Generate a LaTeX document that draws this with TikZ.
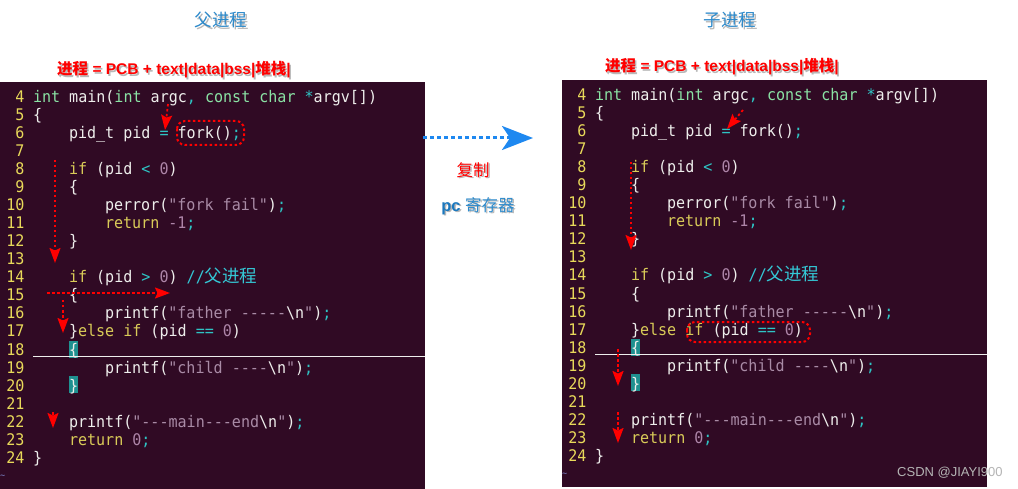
\documentclass[tikz,border=0pt]{standalone}
\usepackage{fontspec}
\setmainfont{Liberation Sans}
\setmonofont{DejaVu Sans Mono}[FakeStretch=0.94]
\newfontfamily\cjk{Noto Sans CJK SC}
\usetikzlibrary{arrows.meta}
\definecolor{bgc}{HTML}{300A24}
\definecolor{clnum}{HTML}{E8D95A}
\definecolor{ctype}{HTML}{8AE2A4}
\definecolor{ckw}{HTML}{D9CB58}
\definecolor{cop}{HTML}{2EC4C4}
\definecolor{cnum}{HTML}{AD85A8}
\definecolor{cstr}{HTML}{A98BA6}
\definecolor{ccmt}{HTML}{34C8D6}
\definecolor{cfg}{HTML}{EEEEEC}
\definecolor{cteal}{HTML}{1F9090}
\definecolor{ctitle}{HTML}{2D8ACB}
\definecolor{cpc}{HTML}{1B78BE}
\definecolor{carrow}{HTML}{1E88F0}
\definecolor{cmark}{HTML}{B4B4B4}
\definecolor{ctilde}{HTML}{7C84C8}
\newcommand\codefont{\ttfamily\fontsize{16}{18}\selectfont}
\newcommand\typ[1]{\textcolor{ctype}{#1}}
\newcommand\kwd[1]{\textcolor{ckw}{#1}}
\newcommand\opr[1]{\textcolor{cop}{#1}}
\newcommand\numb[1]{\textcolor{cnum}{#1}}
\newcommand\strg[1]{\textcolor{cstr}{#1}}
\newcommand\cmt[1]{\textcolor{ccmt}{#1}}
\newcommand\codepanel{%
  \fill[bgc] (0,82) rectangle (425,489);
  \foreach \n in {4,...,24}
    \node[lnum] (ln\n) at (24.5,{103+18*(\n-4)}) {\n};
  \node[code] (c4) at (33,103) {\typ{int} main(\typ{int} argc\opr{,} \typ{const} \typ{char} \opr{*}argv[])};
  \node[code] (c5) at (33,121) {\{};
  \node[code] (c6) at (69,139) {pid\_t pid \opr{=} fork()\opr{;}};
  \node[code] (c8) at (69,175) {\kwd{if} (pid \opr{<} \numb{0})};
  \node[code] (c9) at (69,193) {\{};
  \node[code] (c10) at (105,211) {perror(\strg{"fork fail"})\opr{;}};
  \node[code] (c11) at (105,229) {\kwd{return} \numb{-1}\opr{;}};
  \node[code] (c12) at (69,247) {\}};
  \node[code] (c14) at (69,283) {\kwd{if} (pid \opr{>} \numb{0}) \cmt{//{\cjk\fontsize{17.5}{18}\selectfont 父进程}}};
  \node[code] (c15) at (69,301) {\{};
  \node[code] (c16) at (105,319) {printf(\strg{"father -----}\textbackslash n\strg{"})\opr{;}};
  \node[code] (c17) at (69,337) {\}\kwd{else} \kwd{if} (pid \opr{==} \numb{0})};
  \fill[cteal] (69,341) rectangle (78,357.5);
  \node[code] (c18) at (69,355) {\{};
  \fill[cteal] (69,376) rectangle (78,393);
  \node[code] (c20) at (69,391) {\}};
  \draw[cfg, line width=1pt] (33,356.5) -- (425,356.5);
  \node[code] (c19) at (105,373) {printf(\strg{"child ----}\textbackslash n\strg{"})\opr{;}};
  \node[code] (c22) at (69,427) {printf(\strg{"---main---end}\textbackslash n\strg{"})\opr{;}};
  \node[code] (c23) at (69,445) {\kwd{return} \numb{0}\opr{;}};
  \node[code] (c24) at (33,463) {\}};
  \node[tld] (tl) at (0,478) {\textasciitilde};
}
\begin{document}
\begin{tikzpicture}[x=1pt,y=-1pt,
  code/.style={anchor=base west, inner sep=0pt, outer sep=0pt, text=cfg, font=\codefont},
  lnum/.style={anchor=base east, inner sep=0pt, outer sep=0pt, text=clnum, font=\codefont},
  tld/.style={anchor=base west, inner sep=0pt, text=ctilde, font=\ttfamily\fontsize{9}{9}\selectfont},
  title/.style={inner sep=0pt, text=ctitle, font=\cjk\fontsize{17.5}{18}\selectfont},
  shadowtxt/.style={text=black, opacity=0.28},
  pcb/.style={inner sep=0pt, text=red, font=\bfseries\fontsize{15.5}{16}\selectfont},
  redarr/.style={draw=red, line width=1.8pt, dash pattern=on 2.5pt off 2.5pt,
    -{Stealth[length=15pt,width=11pt,inset=2.5pt]}},
  redbox/.style={draw=red, line width=2pt, dash pattern=on 2.5pt off 2.5pt, rounded corners=8pt},
]
\useasboundingbox (0,0) rectangle (1018,489);
\fill[white] (0,0) rectangle (1018,489);

% panels
\begin{scope}[name prefix=L]
  \codepanel
\end{scope}
\begin{scope}[shift={(562,-2)}, name prefix=R]
  \codepanel
\end{scope}

% titles
\node[title, shadowtxt] (t1s) at (222.5,21.5) {父进程};
\node[title] (t1) at (221,20) {父进程};
\node[title, shadowtxt] (t2s) at (731.5,21.5) {子进程};
\node[title] (t2) at (730,20) {子进程};

% PCB labels
\newcommand\pcbtext{{\cjk\bfseries 进程} = PCB + text|data|bss|{\cjk\bfseries 堆栈}|}
\node[pcb, shadowtxt] (p1s) at (175.5,71.5) {\pcbtext};
\node[pcb] (p1) at (174,70) {\pcbtext};
\node[pcb, shadowtxt] (p2s) at (723.5,68.5) {\pcbtext};
\node[pcb] (p2) at (722,67) {\pcbtext};

% middle arrow and labels
\coordinate (ms) at (423,138);
\coordinate (me) at (533,138);
\draw[carrow, line width=3pt, dash pattern=on 4pt off 3pt,
  -{Stealth[length=31pt,width=24pt,inset=8pt]}] (ms) -- (me);
\node[inner sep=0pt, shadowtxt, font=\cjk\fontsize{16.5}{17}\selectfont] (cps) at (474.5,171.5) {复制};
\node[inner sep=0pt, text=red, font=\cjk\fontsize{16.5}{17}\selectfont] (cp) at (473,170) {复制};
\node[inner sep=0pt, shadowtxt, font=\fontsize{16.5}{17}\selectfont] (pcs) at (479.5,207.5) {\textbf{pc} {\cjk 寄存器}};
\node[inner sep=0pt, font=\fontsize{16.5}{17}\selectfont] (pc) at (478,206) {\textcolor{cpc}{\textbf{pc}} \textcolor{ctitle}{\cjk 寄存器}};

% left annotations
\coordinate (a1s) at (168,104); \coordinate (a1e) at (165,130);
\draw[redarr] (a1s) -- (a1e);
\draw[redbox] (177,121) rectangle (244,145);
\coordinate (a2s) at (55,160); \coordinate (a2e) at (55,263);
\draw[redarr] (a2s) -- (a2e);
\coordinate (a3s) at (47,293); \coordinate (a3e) at (170,293);
\draw[redarr] (a3s) -- (a3e);
\coordinate (a4s) at (63,300); \coordinate (a4e) at (63,333);
\draw[redarr] (a4s) -- (a4e);
\coordinate (a5s) at (53,412); \coordinate (a5e) at (53,428);
\draw[redarr] (a5s) -- (a5e);

% right annotations
\coordinate (b1s) at (743,110); \coordinate (b1e) at (727,129);
\draw[redarr] (b1s) -- (b1e);
\coordinate (b2s) at (631,162); \coordinate (b2e) at (631,250);
\draw[redarr] (b2s) -- (b2e);
\draw[redbox] (687,322) rectangle (810,342);
\coordinate (b4s) at (618,349); \coordinate (b4e) at (618,386);
\draw[redarr] (b4s) -- (b4e);
\coordinate (b5s) at (618,412); \coordinate (b5e) at (618,443);
\draw[redarr] (b5s) -- (b5e);

% watermark
\node[anchor=west, inner sep=0pt, text=cmark, font=\fontsize{13}{13}\selectfont] (wm) at (897,473) {CSDN @JIAYI900};
\end{tikzpicture}
\end{document}
